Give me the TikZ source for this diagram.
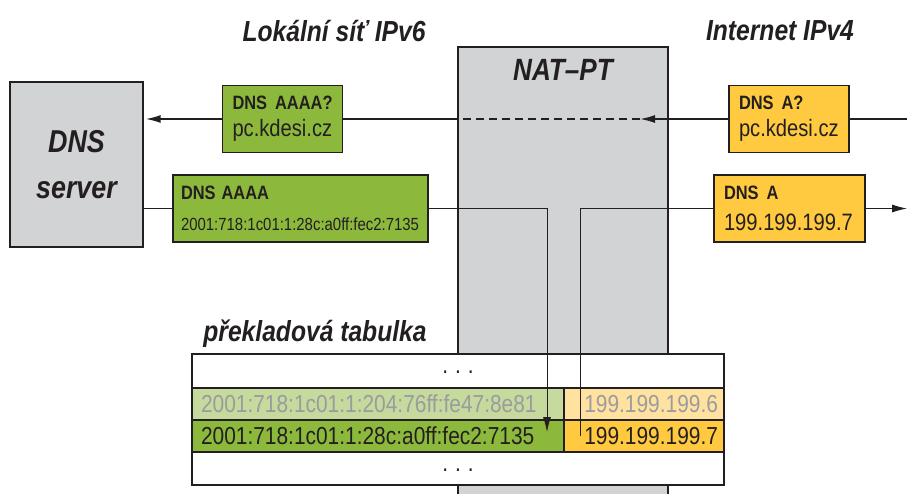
\documentclass[tikz,border=0pt]{standalone}
\usepackage{fontspec}
\setmainfont{Liberation Sans}[FakeStretch=0.85]
\usepackage{tikz}
\usetikzlibrary{arrows.meta,calc,positioning}
\definecolor{NatInk}{HTML}{231F20}
\definecolor{NatGray}{HTML}{D1D3D4}
\definecolor{NatGreen}{HTML}{8CB93C}
\definecolor{NatGreenLight}{HTML}{C5DA9C}
\definecolor{NatYellow}{HTML}{FFC940}
\definecolor{NatYellowLight}{HTML}{FFE2A0}
\definecolor{NatMuted}{HTML}{9A9C9F}
\newcommand{\rectag}[1]{\mbox{\bfseries\fontsize{11}{15.5}\selectfont #1}}

\begin{document}
\begin{tikzpicture}[
  x=0.02cm,y=-0.02cm,>={Latex[length=3mm,width=1.6mm]},
  wire/.style={draw=NatInk,line width=0.9pt},
  thinwire/.style={draw=NatInk,line width=0.5pt},
  head/.style={font=\bfseries\itshape\fontsize{16.5}{18}\selectfont,text=NatInk},
  msg/.style={draw=NatInk,line width=0.6pt,inner xsep=0.2cm,inner ysep=0pt,
    minimum height=1.34cm,align=left,text=NatInk,
    font=\fontsize{13.5}{15.5}\selectfont},
  server/.style={draw=NatInk,fill=NatGray,line width=1.1pt,align=center,
    minimum width=2.66cm,minimum height=3.3cm,text=NatInk,
    font=\bfseries\itshape\fontsize{18}{26}\selectfont},
  natbox/.style={draw=NatInk,fill=NatGray,line width=1pt,
    minimum width=4.2cm,minimum height=9.16cm},
  cell/.style={draw=NatInk,fill=white,line width=1.1pt,inner ysep=0pt,
    inner xsep=0.18cm,text=NatInk,font=\fontsize{14}{15}\selectfont}
]
\useasboundingbox (0,0) rectangle (907,494);

% network sides
\node[head] (lan) at (334,31) {Lokální síť IPv6};
\node[head] (inet) at (780,31) {Internet IPv4};

% translator, it runs on behind the table
\node[natbox] (nat) at (563,276) {};
\node[head,font=\bfseries\itshape\fontsize{17.5}{19}\selectfont] (natlbl)
  at (563,70) {NAT–PT};

\node[server] (dns) at (76.5,164.5) {DNS\\server};

% queries (top) and answers (bottom)
\node[msg,fill=NatGreen,text width=2.0cm] (q6) at (282.5,119)
  {\rectag{DNS AAAA?}\\pc.kdesi.cz};
\node[msg,fill=NatYellow,text width=2.0cm] (q4) at (789,119)
  {\rectag{DNS A?}\\pc.kdesi.cz};
\node[msg,fill=NatGreen,inner xsep=0.16cm,text width=4.78cm,
  font=\fontsize{10}{16.5}\selectfont] (r6) at (300.5,208.5)
  {\rectag{DNS AAAA}\\[1pt]2001:718:1c01:1:28c:a0ff:fec2:7135};
\node[msg,fill=NatYellow,text width=2.62cm,
  font=\fontsize{13.5}{16.5}\selectfont] (r4) at (789.5,208.5)
  {\rectag{DNS A}\\[1pt]199.199.199.7};

% translation table
\node[head] (tablbl) at (315,334) {překladová tabulka};
\node[cell,minimum width=10.64cm,minimum height=0.68cm] (dotsA) at (458,371)
  {\raisebox{-3pt}{\mbox{.\hspace{4pt}.\hspace{4pt}.}}};
\node[cell,fill=NatGreenLight,text=NatMuted,text width=7.08cm,align=left,
  minimum height=0.64cm] (v6old) at (378,404)
  {2001:718:1c01:1:204:76ff:fe47:8e81};
\node[cell,fill=NatYellowLight,text=NatMuted,inner xsep=0.12cm,
  text width=2.96cm,align=right,minimum height=0.64cm] (v4old) at (644,404)
  {199.199.199.6};
\node[cell,fill=NatGreen,text width=7.08cm,align=left,
  minimum height=0.64cm] (v6new) at (378,436)
  {2001:718:1c01:1:28c:a0ff:fec2:7135};
\node[cell,fill=NatYellow,inner xsep=0.12cm,text width=2.96cm,align=right,
  minimum height=0.64cm] (v4new) at (644,436) {199.199.199.7};
\node[cell,minimum width=10.64cm,minimum height=0.66cm] (dotsB) at (458,468.5)
  {\raisebox{-3pt}{\mbox{.\hspace{4pt}.\hspace{4pt}.}}};

\coordinate (wanq) at (907,119);
\coordinate (wanr) at (907,208.5);
\coordinate (natq) at (640,119);
\coordinate (mapA) at (547,432);
\coordinate (mapB) at (580,436);

\draw[wire] (wanq) -- (q4.east);
\draw[wire,->] (q4.west) -- (natq);
\draw[wire,dash pattern=on 0.16cm off 0.1cm] (natq) -- (nat.west |- natq);
\draw[wire] (nat.west |- natq) -- (q6.east);
\draw[wire,->,shorten >=1pt] (q6.west) -- (dns.east |- q6.west);

\draw[thinwire] (dns.east |- r6.west) -- (r6.west);
\draw[thinwire,->] (r6.east) -| (mapA);
\draw[thinwire] (mapB) |- (r4.west);
\draw[thinwire,->] (r4.east) -- (wanr);

\end{tikzpicture}
\end{document}
